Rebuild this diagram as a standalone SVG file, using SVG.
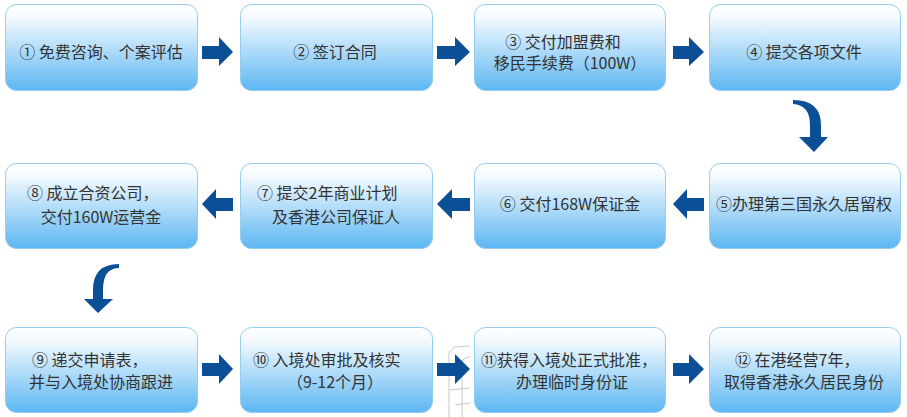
<svg xmlns="http://www.w3.org/2000/svg" width="907" height="417" viewBox="0 0 907 417">
<defs>
<linearGradient id="g" x1="0" y1="0" x2="0" y2="1">
<stop offset="0" stop-color="#ffffff"/>
<stop offset="0.15" stop-color="#f4faff"/>
<stop offset="1" stop-color="#5cb6f2"/>
</linearGradient>
<style>
.box{fill:url(#g);stroke:#97cdec;stroke-width:1}
.t{font-family:"Noto Sans CJK SC","Noto Sans",sans-serif;font-size:16px;fill:#333333}
.m{text-anchor:middle}
.arr{fill:#0b5096}
.wm{fill:none;stroke:#c8c8c8;stroke-width:1}
</style>
</defs>
<rect width="907" height="417" fill="#ffffff"/>
<g id="watermark" class="wm">
<path d="M449,417 L449,352 L455,347 L470,346"/>
<path d="M462,417 L462,360 L470,356"/>
<path d="M449,390 L470,388"/>
<path d="M455,405 L470,403"/>
</g>
<g id="node1"><rect class="box" x="5.5" y="4.5" width="192" height="86" rx="11"/><text class="t m" x="101" y="58">① 免费咨询、个案评估</text></g>
<g id="node2"><rect class="box" x="240.5" y="4.5" width="192" height="86" rx="11"/><text class="t m" x="335" y="58">② 签订合同</text></g>
<g id="node3"><rect class="box" x="474.5" y="4.5" width="191" height="86" rx="11"/><text class="t m" x="563" y="48">③ 交付加盟费和</text><text class="t m" x="570" y="69">移民手续费（100W）</text></g>
<g id="node4"><rect class="box" x="709.5" y="4.5" width="191" height="86" rx="11"/><text class="t m" x="804" y="58">④ 提交各项文件</text></g>
<g id="node5"><rect class="box" x="709.5" y="163.5" width="191" height="85" rx="11"/><text class="t m" x="804" y="210">⑤办理第三国永久居留权</text></g>
<g id="node6"><rect class="box" x="474.5" y="163.5" width="191" height="85" rx="11"/><text class="t m" x="570" y="210">⑥ 交付168W保证金</text></g>
<g id="node7"><rect class="box" x="240.5" y="163.5" width="192" height="85" rx="11"/><text class="t" x="257" y="199">⑦ 提交2年商业计划</text><text class="t m" x="336" y="223">及香港公司保证人</text></g>
<g id="node8"><rect class="box" x="5.5" y="163.5" width="192" height="85" rx="11"/><text class="t" x="27" y="199">⑧ 成立合资公司，</text><text class="t m" x="101" y="223">交付160W运营金</text></g>
<g id="node9"><rect class="box" x="5.5" y="327.5" width="192" height="85" rx="11"/><text class="t" x="32" y="366">⑨ 递交申请表，</text><text class="t m" x="101" y="388">并与入境处协商跟进</text></g>
<g id="node10"><rect class="box" x="240.5" y="327.5" width="192" height="85" rx="11"/><text class="t" x="253" y="366">⑩ 入境处审批及核实</text><text class="t m" x="335" y="388">（9-12个月）</text></g>
<g id="node11"><rect class="box" x="474.5" y="327.5" width="191" height="85" rx="11"/><text class="t" x="481" y="366">⑪获得入境处正式批准，</text><text class="t m" x="572" y="388">办理临时身份证</text></g>
<g id="node12"><rect class="box" x="709.5" y="327.5" width="191" height="85" rx="11"/><text class="t" x="735" y="366">⑫ 在港经营7年，</text><text class="t m" x="804" y="388">取得香港永久居民身份</text></g>
<g id="connectors" class="arr">
<polygon points="202,46 219,46 219,37 233,52 219,66 219,59 202,59"/>
<polygon points="437,46 455,46 455,37 470,52 455,66 455,59 437,59"/>
<polygon points="673,46 689,46 689,37 704,52 689,66 689,59 673,59"/>
<path d="M793,100 Q821,100 821,125 L821,137 L828,137 L814,152 L799,137 L810,137 L810,125 Q810,105 793,104 Z"/>
<polygon points="704,198 687,198 687,189 673,204 687,219 687,211 704,211"/>
<polygon points="470,198 452,198 452,189 437,204 452,219 452,211 470,211"/>
<polygon points="233,198 216,198 216,189 202,204 216,219 216,211 233,211"/>
<path d="M119,264 Q93,264 93,290 L93,299 L84,299 L98,313 L113,299 L103,299 L103,290 Q103,268 119,268 Z"/>
<polygon points="202,363 219,363 219,354 233,369 219,384 219,376 202,376"/>
<polygon points="437,363 455,363 455,354 470,369 455,384 455,376 437,376"/>
<polygon points="673,363 689,363 689,354 704,369 689,384 689,376 673,376"/>
</g>
</svg>
